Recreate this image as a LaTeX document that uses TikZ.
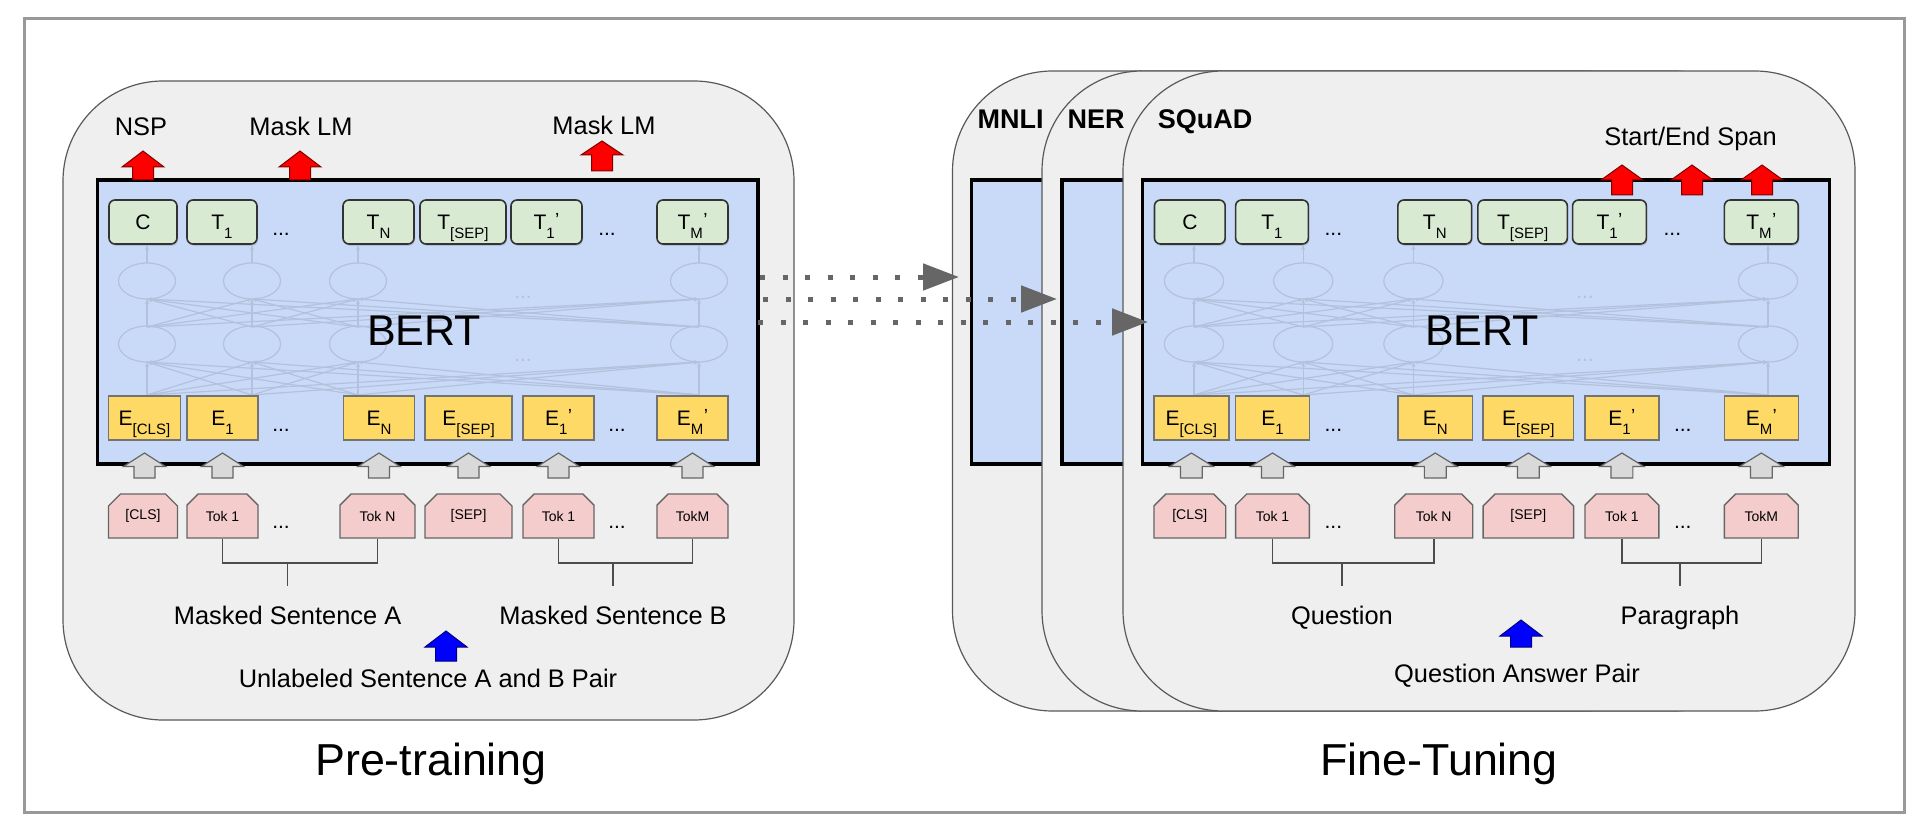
\documentclass[tikz,border=0pt]{standalone}
\usepackage{fontspec}
\setmainfont{Liberation Sans}
\usetikzlibrary{arrows.meta,shapes.misc,shadows,calc,positioning}

\definecolor{panelc}{HTML}{EFEFEF}
\definecolor{panelline}{HTML}{595959}
\definecolor{bertc}{HTML}{C9DAF8}
\definecolor{tgreen}{HTML}{D9EAD3}
\definecolor{eyellow}{HTML}{FFD966}
\definecolor{tokpink}{HTML}{F4CCCC}
\definecolor{netc}{HTML}{B2C1DC}
\definecolor{dotc}{HTML}{666666}
\definecolor{framec}{HTML}{999999}

\tikzstyle{every node}+=[inner sep=0pt]
\tikzstyle{panel}=[fill=panelc,draw=panelline,line width=0.6pt,rounded corners=50pt]
\tikzstyle{bertbox}=[fill=bertc,draw=black,line width=1.6pt]
\tikzstyle{tbox}=[rectangle,rounded corners=3pt,fill=tgreen,draw=black!80,line width=0.8pt,minimum height=22pt,font=\fontsize{10.5}{12}\selectfont,drop shadow={shadow xshift=0.5pt,shadow yshift=-0.9pt,opacity=0.3}]
\tikzstyle{ebox}=[rectangle,fill=eyellow,draw=black!55,line width=0.7pt,minimum height=22pt,font=\fontsize{10.5}{12}\selectfont]
\tikzstyle{tokbox}=[chamfered rectangle,chamfered rectangle corners={north west,north east},chamfered rectangle xsep=3pt,chamfered rectangle ysep=3pt,fill=tokpink,draw=black!60,line width=0.7pt,minimum height=22pt,font=\fontsize{7}{8}\selectfont]
\tikzstyle{redarr}=[fill=red,draw=red!50!black,line width=0.5pt]
\tikzstyle{grayarr}=[fill=black!15,draw=black!60,line width=0.6pt]
\tikzstyle{bluearr}=[fill=blue,draw=blue!50!black,line width=0.5pt]
\tikzstyle{net}=[draw=netc,line width=0.6pt]
\tikzstyle{netarr}=[net,-{Stealth[length=2.5pt,width=2pt]}]
\tikzstyle{bracket}=[draw=black!70,line width=0.8pt]
\tikzstyle{transfer}=[draw=dotc,line width=2.5pt,dash pattern=on 2.5pt off 8.75pt,-{Triangle[length=18pt,width=13pt]}]
\tikzstyle{lbl}=[anchor=base,font=\fontsize{12.7}{14}\selectfont]
\tikzstyle{tasklbl}=[anchor=base,font=\fontsize{13.5}{15}\selectfont\bfseries]
\tikzstyle{title}=[anchor=base,font=\fontsize{22.4}{26}\selectfont]
\tikzstyle{dotlbl}=[anchor=base,font=\fontsize{10.5}{12}\selectfont]

\newcommand{\tsub}[1]{\raisebox{-4.5pt}[0pt][0pt]{\fontsize{7.5}{8}\selectfont #1}}
\newcommand{\tsubp}[1]{\tsub{#1}\kern0.2pt\raisebox{1.2pt}[0pt][0pt]{\fontsize{9.5}{10}\selectfont '}}
% block arrow: style, x, tip, neck, bottom
\newcommand{\uparr}[5]{
	\draw[#1] (#2-10.5,#5) -- (#2-10.5,#4) -- (#2-21,#4) -- (#2,#3) -- (#2+21,#4) -- (#2+10.5,#4) -- (#2+10.5,#5) -- cycle;
}
% BERT box: left edge, stretch, name prefix
\newcommand{\bertblock}[3]{
\begin{scope}[shift={(#1,0)},xscale=#2]
	\pgfmathsetmacro{\ws}{#2}
	\draw[bertbox] (0,180) rectangle (660.5,464);
	\foreach \a in {49.5,154.5,260.5,601.5}{
		\draw[net] (\a,281) ellipse (28.5 and 18);
		\draw[net] (\a,344) ellipse (28.5 and 18);
		\draw[netarr] (\a,263) -- (\a,245);
		\foreach \b in {49.5,154.5,260.5,601.5}{
			\draw[netarr] (\a,395) -- (\b,362);
			\draw[netarr] (\a,327) -- (\b,299);
		}
	}
	\node[dotlbl,text=netc] (#3-h1) at (425.5,298) {...};
	\node[dotlbl,text=netc] (#3-h2) at (425.5,361) {...};
	\node[anchor=base,font=\fontsize{21.5}{24}\selectfont] (#3-name) at (326.5,345) {BERT};
	\foreach \n/\x/\w/\lab in {c/45.5/68/C,t1/124.5/70/T\tsub{1},tn/281/71/T\tsub{N},tsep/365.5/86/T\tsub{[SEP]},tp1/449/71/T\tsubp{1},tpm/595/71/T\tsubp{M}}
		\node[tbox,minimum width={\w*\ws*0.5pt}] (#3-\n) at (\x,222) {\lab};
	\foreach \n/\x/\w/\lab in {ecls/47/72/E\tsub{[CLS]},e1/125/71/E\tsub{1},en/281.5/71.5/E\tsub{N},esep/371/87/E\tsub{[SEP]},ep1/461/71/E\tsubp{1},epm/595/71/E\tsubp{M}}
		\node[ebox,minimum width={\w*\ws*0.5pt}] (#3-\n) at (\x,418) {\lab};
	\foreach \n/\x/\w/\lab in {tcls/45.5/69/[CLS],tok1/125/71/Tok 1,tokn/280/75/Tok N,tsp/371/87/[SEP],tok1b/461/71/Tok 1,tokm/595/71/TokM}
		\node[tokbox,minimum width={\w*\ws*0.5pt}] (#3-\n) at (\x,516) {\lab};
	\foreach \n/\x/\y in {d1/183.5/235,d2/509.5/235,d3/183.5/431,d4/519.5/431,d5/183.5/528,d6/519.5/528}
		\node[dotlbl] (#3-\n) at (\x,\y) {...};
	\foreach \x in {47,125,281.5,371,461,595}{\uparr{grayarr}{\x}{453}{466.5}{478}}
\end{scope}
}

\begin{document}
\begin{tikzpicture}[x=0.5pt,y=-0.5pt]
\useasboundingbox (0,0) rectangle (1931,834);
\draw[framec,line width=1.5pt] (24,19) rectangle (1904,812);

% pre-training
\draw[panel] (63,81) rectangle (794,720);
\bertblock{97.5}{1}{p}
\node[lbl] (nsp) at (141,135.5) {NSP};
\node[lbl] (mlm1) at (301,135.5) {Mask LM};
\node[lbl] (mlm2) at (604,135) {Mask LM};
\uparr{redarr}{143}{151}{167}{180}
\uparr{redarr}{300}{151}{167}{180}
\uparr{redarr}{602}{141}{155}{171}
\node[lbl] (sentA) at (287.6,624) {Masked Sentence A};
\node[lbl] (sentB) at (613,624) {Masked Sentence B};
\draw[bracket] (p-tok1.south) -- ++(0,24) -| (p-tokn.south);
\draw[bracket] ($(sentA.base |- p-tok1.south)+(0,24)$) -- ++(0,23);
\draw[bracket] (p-tok1b.south) -- ++(0,24) -| (p-tokm.south);
\draw[bracket] ($(sentB.base |- p-tok1b.south)+(0,24)$) -- ++(0,23);
\uparr{bluearr}{446}{631}{647}{661}
\node[lbl] (pairA) at (428,687) {Unlabeled Sentence A and B Pair};
\node[title] (pretrain) at (431,775) {Pre-training};

% fine-tuning
\draw[panel] (952.5,71) rectangle (1684.5,711);
\draw[bertbox] (971.5,180) rectangle (1658.5,464);
\node[tasklbl] (mnli) at (1010.5,129) {MNLI};
\draw[panel] (1042,71) rectangle (1774,711);
\draw[bertbox] (1062,180) rectangle (1749,464);
\node[tasklbl] (ner) at (1096,129) {NER};
\draw[panel] (1123,71) rectangle (1855,711);
\bertblock{1142.5}{1.04}{f}
\node[tasklbl] (squad) at (1205,129) {SQuAD};
\node[lbl] (span) at (1690.5,146) {Start/End Span};
\foreach \x in {1622,1692,1762}{\uparr{redarr}{\x}{165}{180}{195}}
\node[lbl] (quest) at (1342,624) {Question};
\node[lbl] (para) at (1680,624) {Paragraph};
\draw[bracket] (f-tok1.south) -- ++(0,24) -| (f-tokn.south);
\draw[bracket] ($(quest.base |- f-tok1.south)+(0,24)$) -- ++(0,23);
\draw[bracket] (f-tok1b.south) -- ++(0,24) -| (f-tokm.south);
\draw[bracket] ($(para.base |- f-tok1b.south)+(0,24)$) -- ++(0,23);
\uparr{bluearr}{1521}{620}{636}{647}
\node[lbl] (qapair) at (1517,682) {Question Answer Pair};
\node[title] (finetune) at (1439,775) {Fine-Tuning};

% transfer of weights
\coordinate (p-out1) at (760,277);
\coordinate (p-out2) at (763,299);
\coordinate (p-out3) at (758,322);
\coordinate (mnli-in) at (959,277);
\coordinate (ner-in) at (1057,299);
\coordinate (squad-in) at (1148,322);
\draw[transfer] (p-out1) -- (mnli-in);
\draw[transfer] (p-out2) -- (ner-in);
\draw[transfer] (p-out3) -- (squad-in);
\end{tikzpicture}
\end{document}
